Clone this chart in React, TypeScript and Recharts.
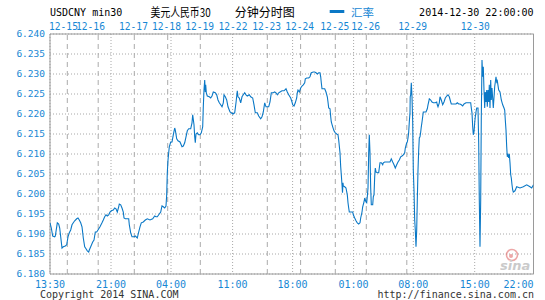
import React from 'react';
import { LineChart, Line, XAxis, YAxis, CartesianGrid, ReferenceLine, ReferenceArea } from 'recharts';

// x = 30-minute slot position along the (gap-free) time axis, y = USD/CNY rate
const slots = [
  0, 1.3, 2.7, 4.7, 5.3, 6.7, 7.3, 8.7, 9.7, 10.7, 12, 13.3, 15.3, 16.7, 18, 19.3, 20.7, 22, 23.3, 24.7,
  26.7, 28, 29.3, 30.7, 32, 33.3, 34.7, 36, 37.3, 38.7, 39.3, 40.7, 42.7, 44, 45.3, 46.7, 48, 50, 52, 53.3,
  54.7, 56, 57.3, 58.7, 60, 61.3, 63.3, 64.7, 66, 67.3, 68.7, 69.3, 70.7, 72, 73.3, 74, 75.3, 78.7, 79.3, 80.7,
  82, 84, 85.3, 87.3, 88.7, 90, 91.3, 93.3, 95.3, 97.3, 100, 102.7, 104.7, 106, 107.3, 109.3, 110.7, 112, 113.3, 114.7,
  116, 116.7, 117.3, 118, 118.7, 119.3, 120.7, 122, 123.3, 124.7, 125.3, 126.7, 128, 130, 132, 133.3, 134.7, 136, 137.3, 138.7,
  140.7, 142, 142.7, 144, 144.7, 145.3, 146, 147.3, 148.7, 150, 151.3, 152.7, 153.3, 154, 154.7, 155.3, 155.7, 156.3, 157.3, 159.3,
  160.7, 162, 163.3, 165.3, 166.7, 168, 169.3, 170.7, 172, 173.3, 174, 175.3, 176.7, 178, 180, 181.3, 182.7, 184.7, 186, 187.3,
  188, 189.3, 190.7, 192, 193.3, 194.7, 196, 197.3, 199.3, 200.7, 202.7, 204, 205.3, 207.3, 208.7, 210.7, 212, 213.3, 214.7, 216,
  217.3, 218.7, 220, 221.3, 223.3, 224.7, 226, 227.3, 228.7, 230, 232, 234, 236, 237.3, 238.7, 240.7, 242, 242.7, 244, 245.3,
  246.7, 247.3, 248, 249.3, 250.7, 252, 253.3, 254.7, 255.3, 256.7, 258.7, 260, 260.7, 261.3, 263.3, 264.7, 266, 267.3, 268.7, 270,
  270.7, 271.3, 272, 273.3, 274.7, 276, 277.3, 278, 278.7, 280, 280.7, 281.3, 282.7, 284, 285.3, 286.7, 288, 288.7, 289.3, 290,
  290.7, 291.3, 292, 292.5, 293, 293.3, 294.7, 296, 297.3, 298, 298.7, 299.3, 302.7, 303.3, 304.7, 306, 307.3, 308.7, 310, 310.7,
  312, 312.7, 314, 314.7, 316, 316.7, 317.3, 318, 318.7, 319.3, 320, 320.7, 321.3, 322.7, 323.3, 324, 324.7, 325.3, 326, 327.3,
  328.7, 329.3, 330, 331.3, 332.7, 333.3, 334.7, 340, 341.3, 342.7, 344, 345.3, 346.7, 348, 349.3, 350.7, 352, 353.3, 354.7, 355.3,
  356.7, 357.3, 358, 358.7, 359.3, 360, 360.2, 360.7, 361.3, 362, 362.7, 363.3, 364, 364.7, 365.3, 366, 366.7, 367.3, 368, 368.7,
  369.3, 370, 370.7, 371.3, 372, 372.7, 373.3, 376, 377.3, 378, 378.7, 379.3, 380.7, 382, 383.3, 385.3, 386.7, 387.3, 388, 389.3,
  390, 391.3, 392.7, 394, 395.3, 396.7, 398, 399.3, 400.7, 401.3, 406, 407.3, 408.7, 410, 411.3, 412.7, 414, 416, 420.7, 421.3,
  422, 422.7, 423.3, 424, 424.7, 425.3, 426, 426.7, 428, 428.7, 429.3, 430, 430.7, 431.3, 432, 432.7, 433.3, 434, 434.7, 435.3,
  436, 436.7, 437.3, 438, 438.7, 439.3, 440, 440.7, 441.3, 442, 443.3, 444.7, 446, 446.7, 447.3, 448.7, 450, 451.3, 452.7, 454,
  454.7, 455.3, 456, 456.7, 457.3, 458, 458.7, 459.3, 460, 460.7, 461.3, 462, 462.7, 463.3, 465, 466.7, 470, 473.3, 476.7, 480,
  481.7, 483.5,
];

const rates = [
  6.1928, 6.1915, 6.1895, 6.1893, 6.1895, 6.1918, 6.1928, 6.1925, 6.1915, 6.1893, 6.1865, 6.1868, 6.187, 6.1873, 6.1893, 6.1903, 6.191, 6.1923, 6.1928, 6.1933,
  6.1938, 6.194, 6.1935, 6.1928, 6.1918, 6.189, 6.1868, 6.1863, 6.1858, 6.1855, 6.186, 6.1868, 6.188, 6.1885, 6.1905, 6.1905, 6.191, 6.1918, 6.1928, 6.1935,
  6.1943, 6.1948, 6.1945, 6.1948, 6.1955, 6.1958, 6.196, 6.1965, 6.1963, 6.1955, 6.1968, 6.1975, 6.1973, 6.1965, 6.1955, 6.194, 6.1938, 6.1938, 6.1923, 6.1903,
  6.1893, 6.1893, 6.1895, 6.189, 6.1905, 6.1918, 6.1928, 6.193, 6.1935, 6.1938, 6.1935, 6.1938, 6.1945, 6.1943, 6.1943, 6.195, 6.1955, 6.197, 6.1968, 6.1965,
  6.197, 6.1998, 6.2053, 6.2085, 6.2103, 6.2118, 6.213, 6.213, 6.2148, 6.2165, 6.216, 6.2138, 6.2133, 6.213, 6.2118, 6.212, 6.2128, 6.2143, 6.2158, 6.2163,
  6.2163, 6.2178, 6.2198, 6.2173, 6.2143, 6.2128, 6.215, 6.2153, 6.2148, 6.2148, 6.2153, 6.2168, 6.2218, 6.226, 6.2285, 6.2255, 6.2273, 6.2253, 6.2245, 6.2243,
  6.224, 6.2245, 6.2255, 6.2253, 6.2248, 6.2235, 6.2228, 6.2223, 6.2218, 6.2228, 6.2248, 6.2243, 6.2235, 6.2218, 6.2205, 6.2203, 6.22, 6.2203, 6.2228, 6.2258,
  6.2243, 6.224, 6.2228, 6.2243, 6.2248, 6.2253, 6.2248, 6.2245, 6.2248, 6.2243, 6.224, 6.2223, 6.2203, 6.2203, 6.2195, 6.2188, 6.2193, 6.2205, 6.2228, 6.2218,
  6.2218, 6.2218, 6.223, 6.2253, 6.2253, 6.2255, 6.2253, 6.2248, 6.2253, 6.2255, 6.2258, 6.2258, 6.2263, 6.2255, 6.2248, 6.224, 6.223, 6.2223, 6.222, 6.2228,
  6.224, 6.2253, 6.226, 6.2255, 6.2265, 6.227, 6.2273, 6.2278, 6.2288, 6.229, 6.229, 6.2293, 6.23, 6.2303, 6.2305, 6.2305, 6.2303, 6.23, 6.2303, 6.2303,
  6.2293, 6.2278, 6.2263, 6.2263, 6.2263, 6.2255, 6.2243, 6.223, 6.2215, 6.2213, 6.2193, 6.218, 6.2168, 6.2158, 6.2153, 6.215, 6.2148, 6.2135, 6.212, 6.2103,
  6.2068, 6.2048, 6.2023, 6.2003, 6.2028, 6.202, 6.2018, 6.2015, 6.1998, 6.1978, 6.1965, 6.1955, 6.1955, 6.1948, 6.194, 6.1933, 6.1928, 6.1925, 6.1928, 6.194,
  6.1955, 6.1968, 6.198, 6.199, 6.198, 6.1978, 6.1993, 6.2015, 6.2103, 6.2148, 6.2103, 6.2015, 6.1973, 6.1973, 6.1993, 6.1998, 6.2043, 6.2065, 6.2055, 6.2053,
  6.2053, 6.2065, 6.2078, 6.2078, 6.2073, 6.2078, 6.208, 6.208, 6.2088, 6.208, 6.2073, 6.2065, 6.2073, 6.208, 6.2085, 6.2093, 6.2095, 6.2098, 6.2103, 6.2115,
  6.2128, 6.213, 6.214, 6.2155, 6.218, 6.2203, 6.2243, 6.2248, 6.2278, 6.2243, 6.218, 6.206, 6.201, 6.1935, 6.191, 6.1868, 6.191, 6.1985, 6.206, 6.211,
  6.214, 6.2143, 6.2155, 6.2168, 6.218, 6.2193, 6.2205, 6.2205, 6.2213, 6.2223, 6.223, 6.2238, 6.2235, 6.223, 6.2228, 6.2228, 6.223, 6.2223, 6.2218, 6.2228,
  6.2243, 6.2235, 6.2223, 6.223, 6.224, 6.2245, 6.2248, 6.2243, 6.223, 6.2225, 6.2225, 6.2228, 6.2225, 6.2225, 6.2223, 6.222, 6.2225, 6.2228, 6.2228, 6.2215,
  6.2203, 6.2168, 6.2148, 6.2155, 6.2178, 6.2193, 6.2205, 6.2215, 6.2215, 6.2128, 6.1985, 6.1868, 6.1985, 6.2193, 6.2335, 6.2293, 6.2318, 6.226, 6.2215, 6.2255,
  6.223, 6.226, 6.2218, 6.226, 6.223, 6.2273, 6.2215, 6.2285, 6.2235, 6.2265, 6.2215, 6.2268, 6.2293, 6.228, 6.2283, 6.226, 6.2255, 6.2235, 6.2223, 6.2215,
  6.221, 6.2185, 6.216, 6.2118, 6.2093, 6.2098, 6.209, 6.21, 6.2078, 6.2048, 6.204, 6.2023, 6.201, 6.2005, 6.2008, 6.2018, 6.2015, 6.2018, 6.2023, 6.2018,
  6.2015, 6.2023,
];

const yTicks = [6.18, 6.185, 6.19, 6.195, 6.2, 6.205, 6.21, 6.215, 6.22, 6.225, 6.23, 6.235, 6.24];

const timeTickSlots = [0, 61, 121, 182.6, 242.6, 303.6, 363.3, 424.7, 483.5];
const timeTickLabels = ['13:30', '21:00', '04:00', '11:00', '18:00', '01:00', '08:00', '15:00', '22:00'];

const dateTickSlots = [13.5, 40.5, 83.5, 116.5, 149.6, 183, 216.6, 249.6, 284.8, 315.7, 362.7, 425.3];
const dateTickLabels = ['12-15', '12-16', '12-17', '12-18', '12-19', '12-22', '12-23', '12-24', '12-25', '12-26', '12-29', '12-30'];

const dayBreakSlots = [17.3, 48.2, 84.3, 117.7, 150.3, 217.3, 250.6, 285.3, 316.3, 356.8];

const X_MAX = 483.5;
const BLUE = '#1787d4';
const LINE = '#0a78c6';
const MONO = "'DejaVu Sans Mono', 'Liberation Mono', monospace";
const CJK = "'Noto Sans CJK SC', sans-serif";

const TimeTick = (props: any) => {
  const { x, y, payload } = props;
  const i = timeTickSlots.indexOf(payload.value);
  const last = i === timeTickSlots.length - 1;
  return (
    <text x={x} y={y + 13.8} textAnchor={last ? 'end' : 'middle'} fill={BLUE} fontSize={10} fontFamily={MONO}>
      {timeTickLabels[i]}
    </text>
  );
};

const DateTick = (props: any) => {
  const { x, y, payload } = props;
  const i = dateTickSlots.indexOf(payload.value);
  return (
    <text x={x} y={y - 3.7} textAnchor="middle" fill={BLUE} fontSize={9.6} fontFamily={MONO}>
      {dateTickLabels[i]}
    </text>
  );
};

const RateTick = (props: any) => {
  const { x, y, payload } = props;
  return (
    <text x={x} y={y} dy="0.36em" textAnchor="end" fill={BLUE} fontSize={9.5} fontFamily={MONO}>
      {Number(payload.value).toFixed(3)}
    </text>
  );
};

export default function App() {
  const data = slots.map((s, i) => ({ slot: s, rate: rates[i] }));
  return (
    <div style={{ position: 'absolute', left: 0, top: 0, width: 545, height: 300, background: '#fff' }}>
      <LineChart width={545} height={300} data={data} margin={{ top: 14, right: 11.5, bottom: 0, left: 0 }}>
        <CartesianGrid stroke="#a8a8a8" strokeDasharray="1 2" />
        <XAxis
          dataKey="slot"
          type="number"
          domain={[0, X_MAX]}
          ticks={timeTickSlots}
          interval={0}
          tick={<TimeTick />}
          axisLine={false}
          tickLine={false}
          tickSize={0}
          tickMargin={0}
          height={26}
          allowDataOverflow
        />
        <XAxis
          xAxisId="top"
          dataKey="slot"
          orientation="top"
          type="number"
          domain={[0, X_MAX]}
          ticks={dateTickSlots}
          interval={0}
          tick={<DateTick />}
          axisLine={false}
          tickLine={false}
          tickSize={0}
          tickMargin={0}
          height={20}
          allowDataOverflow
        />
        <YAxis
          type="number"
          domain={[6.18, 6.24]}
          ticks={yTicks}
          interval={0}
          tick={<RateTick />}
          axisLine={false}
          tickLine={false}
          tickSize={0}
          tickMargin={5}
          width={50}
          allowDataOverflow
        />
        {dayBreakSlots.map((s) => (
          <ReferenceLine key={s} x={s} stroke="#ababab" strokeDasharray="5 4" />
        ))}
        <ReferenceArea x1={0} x2={X_MAX} y1={6.18} y2={6.24} fill="none" stroke="#9a9a9a" strokeOpacity={1} fillOpacity={0} />
        <Line type="linear" dataKey="rate" stroke={LINE} strokeWidth={1.1} dot={false} activeDot={false} isAnimationActive={false} />
      </LineChart>
      <svg width={545} height={300} style={{ position: 'absolute', left: 0, top: 0, pointerEvents: 'none' }}>
        <text x={50} y={15.7} fontSize={10} fontFamily={MONO} fill="#000">USDCNY min30</text>
        <text x={150.6} y={16.5} fontSize={12} fontFamily={CJK} fill="#000" textLength={60} lengthAdjust="spacingAndGlyphs">美元人民币30</text>
        <text x={234.8} y={16.5} fontSize={12} fontFamily={CJK} fill="#000">分钟分时图</text>
        <line x1={329.7} x2={344.3} y1={11.5} y2={11.5} stroke={LINE} strokeWidth={3} />
        <text x={351} y={16.5} fontSize={11.5} fontFamily={CJK} fill={BLUE}>汇率</text>
        <text x={533.5} y={15.7} textAnchor="end" fontSize={10} fontFamily={MONO} fill="#000">2014-12-30 22:00:00</text>
        <text x={40} y={298.3} fontSize={10} fontFamily={MONO} fill="#333">Copyright 2014 SINA.COM</text>
        <text x={534} y={298.3} textAnchor="end" fontSize={10} fontFamily={MONO} fill="#333">http://finance.sina.com.cn</text>
        <g opacity={0.55}>
          <circle cx={512} cy={255} r={5.5} fill="none" stroke="#e06060" strokeWidth={1.6} />
          <circle cx={511} cy={256} r={2} fill="#e06060" />
          <text x={500} y={270} fontSize={13} fontStyle="italic" fontWeight="bold" fontFamily="'DejaVu Sans', sans-serif" fill="#a0a0a0">sina</text>
        </g>
      </svg>
    </div>
  );
}
